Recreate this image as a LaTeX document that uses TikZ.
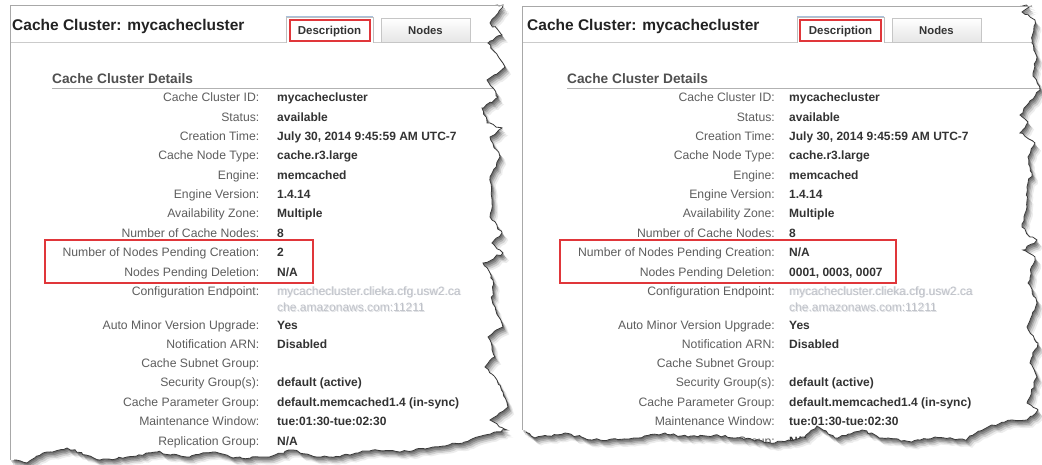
\documentclass[tikz,border=0pt]{standalone}
\usepackage{fontspec}
\setmainfont{Liberation Sans}
\usetikzlibrary{decorations.pathmorphing}
\definecolor{labgray}{HTML}{5E5E5E}
\definecolor{valgray}{HTML}{333333}
\definecolor{hdr}{HTML}{222222}
\definecolor{redbox}{HTML}{E0363A}
\definecolor{bordergray}{HTML}{A8A8A8}
\definecolor{linegray}{HTML}{CBCBCB}
\definecolor{edgegray}{HTML}{3A3A3A}
\definecolor{blurtext}{HTML}{BFC2C9}
\definecolor{tabblue}{HTML}{A9C0DC}
\tikzset{
  lab/.style={inner sep=0pt, anchor=base east, text=labgray, font=\fontsize{12.2}{14}\selectfont},
  val/.style={inner sep=0pt, anchor=base west, text=valgray, font=\fontsize{12}{14}\selectfont\bfseries},
  blurtxt/.style={inner sep=0pt, anchor=base west, text=blurtext, font=\fontsize{12}{14}\selectfont},
  hdrtext/.style={inner sep=0pt, anchor=base west, text=hdr, font=\fontsize{15.5}{18}\selectfont\bfseries},
  sectext/.style={inner sep=0pt, anchor=base west, text=labgray!85!black, font=\fontsize{13.7}{16}\selectfont\bfseries},
  tabon/.style={draw=gray!50, fill=white, inner sep=0pt, text height=10pt, text depth=0pt, text=valgray, font=\fontsize{11.5}{13}\selectfont\bfseries},
  taboff/.style={draw=gray!45, top color=white, bottom color=gray!20, inner sep=0pt, text height=10pt, text depth=0pt, text=valgray, font=\fontsize{11.3}{13}\selectfont\bfseries},
  redframe/.style={draw=redbox, line width=2pt, inner sep=0pt},
  torn/.style={decorate, decoration={random steps, segment length=3.5pt, amplitude=1.2pt}},
}
\newcommand\inforow[5]{%
  \node[lab] (#1l#2) at (\labx,#3) {#4};
  \node[val] (#1v#2) at (\valx,#3) {#5};}
\newcommand\tornA[1]{\pgfmathsetseed{1234}%
  \path[#1, torn] (10,5) -- (503,5) -- (490,23) -- (502,35) -- (488,43) -- (505,67) -- (487,80) -- (498,97)
   -- (482,108) -- (487,123) -- (502,128) -- (490,137) -- (500,157) -- (490,177) -- (492,200) -- (490,217)
   -- (502,233) -- (492,243) -- (503,253) -- (483,263) -- (493,280) -- (492,300) -- (503,327) -- (488,337)
   -- (495,357) -- (485,367) -- (497,380) -- (508,407) -- (490,420) -- (507,430) -- (485,435) -- (463,443)
   -- (433,447) -- (400,452) -- (373,450) -- (350,455) -- (317,457) -- (293,450) -- (267,457) -- (233,458)
   -- (213,452) -- (187,457) -- (157,452) -- (127,457) -- (100,460) -- (67,448) -- (43,453) -- (27,463)
   -- (12,460) -- (10,460) -- cycle;}
\newcommand\tornB[1]{\pgfmathsetseed{4321}%
  \path[#1, torn] (522,6) -- (1032,6) -- (1022,12) -- (1035,20) -- (1032,43) -- (1037,57) -- (1033,73)
   -- (1040,90) -- (1020,115) -- (1028,122) -- (1020,133) -- (1035,143) -- (1028,157) -- (1032,173)
   -- (1027,187) -- (1027,207) -- (1022,227) -- (1030,237) -- (1037,240) -- (1023,250) -- (1035,257)
   -- (1028,283) -- (1037,303) -- (1027,327) -- (1038,343) -- (1030,363) -- (1037,377) -- (1027,403)
   -- (1038,410) -- (1027,420) -- (1012,420) -- (988,427) -- (965,440) -- (935,437) -- (912,442)
   -- (882,438) -- (862,430) -- (835,438) -- (817,426) -- (805,437) -- (775,443) -- (742,438)
   -- (715,435) -- (688,437) -- (665,433) -- (635,438) -- (592,440) -- (565,433) -- (535,438)
   -- (525,430) -- (522,430) -- cycle;}
\newcommand\panelbody[7]{% #1 prefix, #2 left border, #3 header x, #4 section x, #5 pending creation, #6 pending deletion, #7 tab x offset
  \draw[linegray] (#2,42) -- (1042,42);
  \draw[gray!60] (#4,88) -- (1042,88);
  \node[hdrtext] (#1title) at (#3,31) {Cache Cluster: mycachecluster};
  \node[tabon, minimum width=87pt, minimum height=25pt] (#1desc) at (329.5+#7,29.5) {Description};
  \draw[white, line width=1.4pt] ([xshift=0.7pt]#1desc.south west) -- ([xshift=-0.7pt]#1desc.south east);
  \draw[tabblue, line width=1pt] (#1desc.north west) -- (#1desc.north east);
  \node[taboff, minimum width=89pt, minimum height=24pt] (#1nodes) at (425.5+#7,30) {Nodes};
  \node[sectext] (#1sec) at (#4,84) {Cache Cluster Details};
  \inforow{#1}{1}{102}{Cache Cluster ID:}{mycachecluster}
  \inforow{#1}{2}{121.5}{Status:}{available}
  \inforow{#1}{3}{141}{Creation Time:}{July 30, 2014 9:45:59 AM UTC-7}
  \inforow{#1}{4}{160}{Cache Node Type:}{cache.r3.large}
  \inforow{#1}{5}{179.5}{Engine:}{memcached}
  \inforow{#1}{6}{198.5}{Engine Version:}{1.4.14}
  \inforow{#1}{7}{218}{Availability Zone:}{Multiple}
  \inforow{#1}{8}{237.5}{Number of Cache Nodes:}{8}
  \inforow{#1}{9}{257}{Number of Nodes Pending Creation:}{#5}
  \inforow{#1}{10}{276.5}{Nodes Pending Deletion:}{#6}
  \node[lab] (#1l11) at (\labx,295) {Configuration Endpoint:};
  \node[blurtxt] (#1ep1) at (\valx,295) {mycachecluster.clieka.cfg.usw2.ca};
  \node[blurtxt, opacity=0.5] (#1ep1b) at (\valx+0.8,295.6) {mycachecluster.clieka.cfg.usw2.ca};
  \node[blurtxt] (#1ep2) at (\valx,311.5) {che.amazonaws.com:11211};
  \node[blurtxt, opacity=0.5] (#1ep2b) at (\valx+0.8,312.1) {che.amazonaws.com:11211};
  \inforow{#1}{12}{329}{Auto Minor Version Upgrade:}{Yes}
  \inforow{#1}{13}{348}{Notification ARN:}{Disabled}
  \inforow{#1}{14}{367}{Cache Subnet Group:}{}
  \inforow{#1}{15}{386.5}{Security Group(s):}{default (active)}
  \inforow{#1}{16}{406}{Cache Parameter Group:}{default.memcached1.4 (in-sync)}
  \inforow{#1}{17}{425.5}{Maintenance Window:}{tue:01:30-tue:02:30}
  \inforow{#1}{18}{445}{Replication Group:}{N/A}
}
\begin{document}
\begin{tikzpicture}[x=1pt,y=-1pt]
\useasboundingbox (0,0) rectangle (1042,465);
\fill[white] (0,0) rectangle (1042,465);
% ---------- left panel ----------
\tornA{fill=black, fill opacity=0.2, shift={(1,1.5)}}
\tornA{fill=black, fill opacity=0.2, shift={(2,3)}}
\tornA{fill=black, fill opacity=0.17, shift={(3,4.5)}}
\tornA{fill=black, fill opacity=0.12, shift={(4.5,6)}}
\tornA{fill=black, fill opacity=0.07, shift={(6,7.5)}}
\tornA{fill=white}
\begin{scope}
  \tornA{clip}
  \def\labx{259.5}\def\valx{277}
  \panelbody{A}{10}{12}{52}{2}{N/A}{0}
  \node[redframe, minimum width=80pt, minimum height=21pt] (Aredtab) at (330,30.5) {};
  \node[redframe, minimum width=268pt, minimum height=43pt] (Aredrows) at (179,261.5) {};
\end{scope}
\begin{scope}
  \clip (14,9) rectangle (1042,470) (495,0) rectangle (1042,9);
  \tornA{draw=edgegray, line width=0.8pt}
\end{scope}
\draw[bordergray, line width=0.8pt] (10,460) -- (10,5) -- (503,5);
% ---------- right panel ----------
\tornB{fill=black, fill opacity=0.2, shift={(1,1.5)}}
\tornB{fill=black, fill opacity=0.2, shift={(2,3)}}
\tornB{fill=black, fill opacity=0.17, shift={(3,4.5)}}
\tornB{fill=black, fill opacity=0.12, shift={(4.5,6)}}
\tornB{fill=black, fill opacity=0.07, shift={(6,7.5)}}
\tornB{fill=white}
\begin{scope}
  \tornB{clip}
  \def\labx{775}\def\valx{789}
  \panelbody{B}{522}{527}{567}{N/A}{0001, 0003, 0007}{511}
  \node[redframe, minimum width=81pt, minimum height=21pt] (Bredtab) at (840.5,30.5) {};
  \node[redframe, minimum width=336pt, minimum height=43pt] (Bredrows) at (728,261.5) {};
\end{scope}
\begin{scope}
  \clip (526,10) rectangle (1042,470) (1020,0) rectangle (1042,10);
  \tornB{draw=edgegray, line width=0.8pt}
\end{scope}
\draw[bordergray, line width=0.8pt] (522,430) -- (522,6) -- (1032,6);
\end{tikzpicture}
\end{document}
